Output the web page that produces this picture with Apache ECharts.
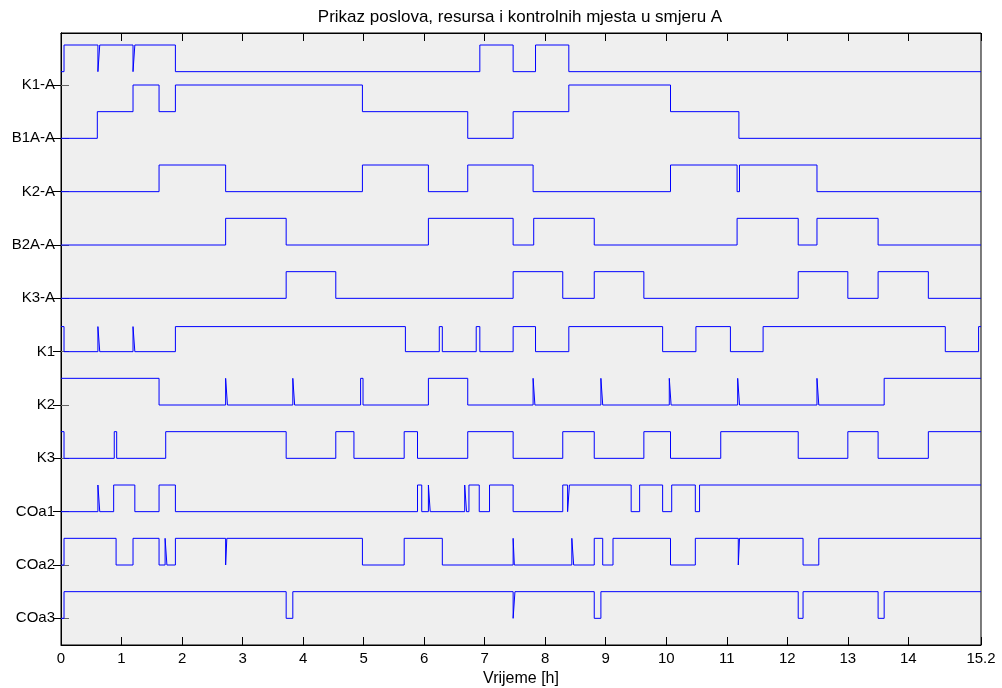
<!DOCTYPE html>
<html>
<head>
<meta charset="utf-8">
<script src="https://cdn.jsdelivr.net/npm/echarts@6/dist/echarts.min.js"></script>
<style>
html,body{margin:0;padding:0;background:#fff;}
#chart{width:1002px;height:688px;}
</style>
</head>
<body>
<div id="chart"></div>
<script>
// Signal names, top to bottom
const categories = ['K1-A','B1A-A','K2-A','B2A-A','K3-A','K1','K2','K3','COa1','COa2','COa3'];
// x-axis tick labels
const xTicks = [0,1,2,3,4,5,6,7,8,9,10,11,12,13,14,15.2];
const tEnd = 15.2;

// Each signal: [time h, state] — state holds until the next change
const K1A  = [[0,0],[0.05,1],[0.61,0],[0.64,1],[1.19,0],[1.22,1],[1.89,0],[6.92,1],[7.47,0],[7.84,1],[8.39,0]];
const B1AA = [[0,0],[0.60,1],[1.19,2],[1.62,1],[1.89,2],[4.98,1],[6.72,0],[7.47,1],[8.39,2],[10.07,1],[11.20,0]];
const K2A  = [[0,0],[1.62,1],[2.72,0],[4.98,1],[6.07,0],[6.72,1],[7.80,0],[10.07,1],[11.17,0],[11.21,1],[12.49,0]];
const B2AA = [[0,0],[2.72,1],[3.72,0],[6.07,1],[7.47,0],[7.81,1],[8.81,0],[11.17,1],[12.18,0],[12.49,1],[13.50,0]];
const K3A  = [[0,0],[3.72,1],[4.54,0],[7.47,1],[8.29,0],[8.81,1],[9.63,0],[12.18,1],[13.00,0],[13.50,1],[14.33,0]];
const K1   = [[0,1],[0.05,0],[0.61,1],[0.64,0],[1.19,1],[1.22,0],[1.89,1],[5.69,0],[6.25,1],[6.30,0],[6.86,1],[6.92,0],[7.47,1],[7.84,0],[8.39,1],[9.94,0],[10.49,1],[11.06,0],[11.60,1],[14.61,0],[15.16,1]];
const K2   = [[0,1],[1.62,0],[2.72,1],[2.75,0],[3.83,1],[3.86,0],[4.95,1],[4.99,0],[6.07,1],[6.72,0],[7.80,1],[7.83,0],[8.92,1],[8.95,0],[10.05,1],[10.08,0],[11.18,1],[11.21,0],[12.49,1],[12.52,0],[13.60,1]];
const K3   = [[0,1],[0.05,0],[0.88,1],[0.92,0],[1.73,1],[3.72,0],[4.54,1],[4.84,0],[5.67,1],[5.89,0],[6.72,1],[7.47,0],[8.29,1],[8.81,0],[9.63,1],[10.07,0],[10.90,1],[12.18,0],[13.00,1],[13.50,0],[14.33,1]];
const COa1 = [[0,0],[0.61,1],[0.64,0],[0.87,1],[1.22,0],[1.62,1],[1.89,0],[5.89,1],[5.96,0],[6.07,1],[6.10,0],[6.67,1],[6.70,0],[6.74,1],[6.91,0],[7.08,1],[7.47,0],[8.29,1],[8.37,0],[8.40,1],[9.42,0],[9.56,1],[9.94,0],[10.09,1],[10.48,0],[10.55,1]];
const COa2 = [[0,0],[0.05,1],[0.91,0],[1.19,1],[1.62,0],[1.72,1],[1.75,0],[1.89,1],[2.72,0],[2.74,1],[4.98,0],[5.67,1],[6.30,0],[7.47,1],[7.49,0],[8.44,1],[8.47,0],[8.81,1],[8.95,0],[9.12,1],[10.07,0],[10.48,1],[11.19,0],[11.21,1],[12.26,0],[12.52,1]];
const COa3 = [[0,0],[0.05,1],[3.72,0],[3.83,1],[7.47,0],[7.50,1],[8.81,0],[8.92,1],[12.18,0],[12.26,1],[13.50,0],[13.60,1]];

const signals = [K1A,B1AA,K2A,B2AA,K3A,K1,K2,K3,COa1,COa2,COa3];

// drawing helpers (position/scale of each trace on the y axis)
const n = categories.length;
const basePos = categories.map((c,i)=> n - i);
const baseOffset = {'K1-A':0.25};
const stepH = {'K1':0.47};

const series = signals.map((sig,i)=>{
  const name = categories[i];
  const b = basePos[i] + (baseOffset[name]||0);
  const h = stepH[name]||0.5;
  const pts = sig.map(p=>[p[0], b + h*p[1]]);
  pts.push([tEnd, b + h*sig[sig.length-1][1]]);
  return {
    name, type:'line', step:'end', symbol:'none', data:pts,
    lineStyle:{color:'#0000ff', width:1}, animation:false, silent:true
  };
});

const font = "'Liberation Sans', Arial, Helvetica, sans-serif";
const yVals = basePos.slice().reverse();

const chart = echarts.init(document.getElementById('chart'), null, {renderer:'canvas'});
chart.setOption({
  backgroundColor:'#ffffff',
  animation:false,
  title:{
    text:'Prikaz poslova, resursa i kontrolnih mjesta u smjeru A',
    left:515, top:4, textAlign:'center',
    textStyle:{fontFamily:font, fontSize:17, fontWeight:'normal', color:'#000'}
  },
  grid:{left:61, right:21, top:33, bottom:43, containLabel:false, outerBoundsMode:'none', show:true,
        backgroundColor:'#efefef', borderColor:'#000', borderWidth:1},
  xAxis:[{
    type:'value', min:0, max:tEnd, position:'bottom',
    name:'Vrijeme [h]', nameLocation:'middle', nameGap:25,
    nameTextStyle:{fontFamily:font, fontSize:16, color:'#000'},
    axisLine:{show:true, lineStyle:{color:'#000', width:1}},
    axisTick:{show:true, inside:true, length:8, customValues:xTicks, lineStyle:{color:'#000'}},
    axisLabel:{show:true, customValues:xTicks, margin:6, fontFamily:font, fontSize:15, color:'#000',
      formatter:v=>String(v)},
    splitLine:{show:false}
  },{
    type:'value', min:0, max:tEnd, position:'top',
    axisLine:{show:true, lineStyle:{color:'#000', width:1}},
    axisTick:{show:true, inside:true, length:8, customValues:xTicks, lineStyle:{color:'#000'}},
    axisLabel:{show:false}, splitLine:{show:false}
  }],
  yAxis:[{
    type:'value', min:0.5, max:11.975, position:'left',
    axisLine:{show:true, lineStyle:{color:'#000', width:1}},
    axisTick:{show:true, inside:true, length:8, customValues:yVals, lineStyle:{color:'#666'}},
    axisLabel:{show:true, customValues:yVals, margin:6, fontFamily:font, fontSize:15, color:'#000',
      formatter:v=>categories[n - Math.round(v)]},
    splitLine:{show:false}
  },{
    type:'value', min:0.5, max:11.975, position:'right',
    axisLine:{show:true, lineStyle:{color:'#000', width:1}},
    axisTick:{show:true, inside:true, length:8, customValues:yVals, lineStyle:{color:'#000'}},
    axisLabel:{show:false}, splitLine:{show:false}
  }],
  series
});
</script>
</body>
</html>
